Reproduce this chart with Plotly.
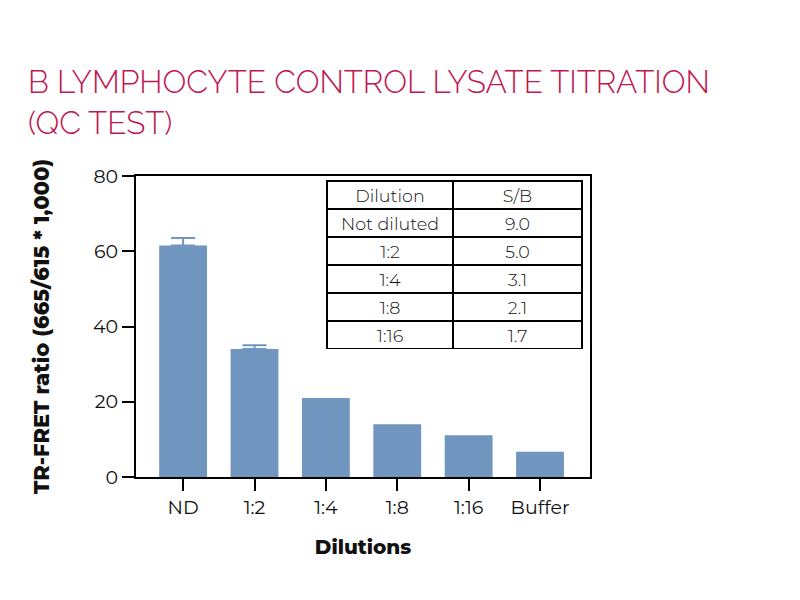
import plotly.graph_objects as go

# bar chart data
dilutions = ["ND", "1:2", "1:4", "1:8", "1:16", "Buffer"]
ratio = [61.5, 34.0, 21.0, 14.0, 11.1, 6.7]

# only the first two bars carry error bars
err_dilutions = ["ND", "1:2"]
err_ratio = [61.5, 34.0]
err_up = [2.0, 1.0]

# inset table data
table_dilution = ["Not diluted", "1:2", "1:4", "1:8", "1:16"]
table_sb = ["9.0", "5.0", "3.1", "2.1", "1.7"]

title_font = "Raleway, Lato, sans-serif"
body_font = "Montserrat, Lato, sans-serif"
bar_color = "#7096C0"

fig = go.Figure()

fig.add_trace(go.Bar(
    x=dilutions,
    y=ratio,
    width=0.67,
    marker=dict(color=bar_color, line=dict(width=0)),
    showlegend=False,
))

fig.add_trace(go.Scatter(
    x=err_dilutions,
    y=err_ratio,
    mode="markers",
    marker=dict(size=0.1, color=bar_color),
    error_y=dict(type="data", array=err_up, arrayminus=[0, 0], symmetric=False,
                 color=bar_color, thickness=2, width=12),
    showlegend=False,
    hoverinfo="skip",
))

fig.add_trace(go.Table(
    domain=dict(x=[(327 - 136) / 454, (582 - 136) / 454], y=[(477 - 349) / 301, (477 - 181) / 301]),
    columnwidth=[126, 129],
    header=dict(
        values=["Dilution", "S/B"],
        fill_color="white",
        line=dict(color="black", width=2),
        font=dict(family=body_font, size=17.5, color="#111", weight=300),
        align="center",
        height=28,
    ),
    cells=dict(
        values=[table_dilution, table_sb],
        fill_color="white",
        line=dict(color="black", width=2),
        font=dict(family=body_font, size=17.5, color="#111", weight=300),
        align="center",
        height=28,
    ),
))

fig.update_layout(
    width=800,
    height=600,
    paper_bgcolor="white",
    plot_bgcolor="white",
    margin=dict(l=128, r=218, t=168, b=131),
    title=dict(
        text="B LYMPHOCYTE CONTROL LYSATE TITRATION<br>(QC TEST)",
        x=0.025, xanchor="left", y=0.858, yanchor="top",
        font=dict(family=title_font, size=31.5, color="#C0174F", weight=300),
    ),
    font=dict(family=body_font, color="#111"),
)

fig.update_xaxes(
    range=[-0.66, 5.7],
    showline=True, linecolor="black", linewidth=2, mirror=True,
    ticks="outside", ticklen=12, tickwidth=2, tickcolor="black",
    tickfont=dict(size=19, color="#111"),
    title=dict(text="Dilutions", font=dict(size=20, family=body_font, weight=800), standoff=22),
    showgrid=False,
)
fig.update_yaxes(
    range=[0, 80], tickvals=[0, 20, 40, 60, 80],
    showline=True, linecolor="black", linewidth=2, mirror=True,
    ticks="outside", ticklen=12, tickwidth=2, tickcolor="black",
    tickfont=dict(size=19, color="#111"),
    title=dict(text="TR-FRET ratio (665/615 * 1,000)", font=dict(size=21, family=body_font, weight=800), standoff=38),
    showgrid=False, zeroline=False,
)

fig.write_html("out.html")
